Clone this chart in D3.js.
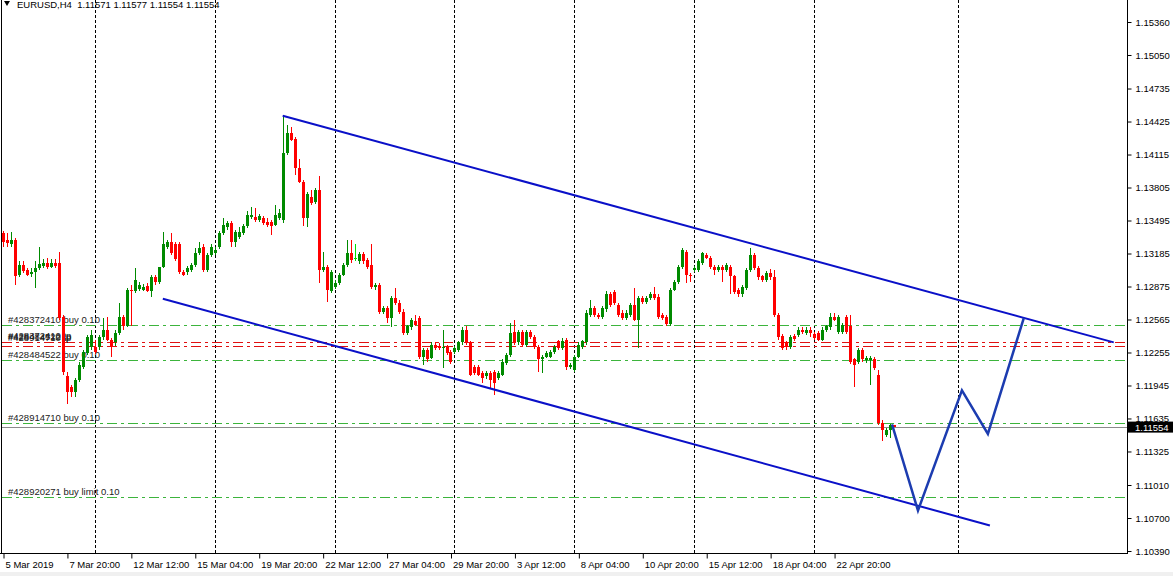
<!DOCTYPE html>
<html><head><meta charset="utf-8">
<script src="https://cdn.jsdelivr.net/npm/d3@7/dist/d3.min.js"></script>
<style>
html,body{margin:0;padding:0;background:#fff;}
svg{display:block;font-family:"Liberation Sans",Arial,sans-serif;}
</style></head>
<body>
<svg id="c" width="1173" height="576"></svg>
<script>
// ---- data ----
const symbol = "EURUSD,H4";
const lastQuote = [1.11571, 1.11577, 1.11554, 1.11554];
const open = [1.1338,1.1331,1.1327,1.1331,1.1298,1.1308,1.1303,1.1299,1.1301,1.1305,1.1307,1.1310,1.1306,1.1310,1.1310,1.1259,1.1203,1.1193,1.1188,1.1200,
1.1212,1.1225,1.1231,1.1231,1.1231,1.1240,1.1247,1.1237,1.1235,1.1244,1.1259,1.1250,1.1284,1.1283,1.1285,1.1284,1.1288,1.1283,1.1296,1.1292,
1.1306,1.1325,1.1329,1.1327,1.1327,1.1301,1.1301,1.1303,1.1308,1.1319,1.1325,1.1303,1.1317,1.1319,1.1325,1.1338,1.1343,1.1347,1.1329,1.1334,
1.1338,1.1344,1.1353,1.1353,1.1350,1.1352,1.1348,1.1348,1.1345,1.1352,1.1350,1.1413,1.1432,1.1426,1.1399,1.1386,1.1352,1.1372,1.1367,1.1378,
1.1303,1.1306,1.1283,1.1287,1.1291,1.1298,1.1308,1.1319,1.1314,1.1311,1.1318,1.1312,1.1308,1.1287,1.1289,1.1264,1.1267,1.1258,1.1277,1.1272,
1.1264,1.1244,1.1249,1.1255,1.1258,1.1221,1.1228,1.1220,1.1233,1.1232,1.1230,1.1231,1.1226,1.1226,1.1228,1.1235,1.1247,1.1235,1.1212,1.1212,
1.1206,1.1203,1.1206,1.1207,1.1202,1.1204,1.1216,1.1223,1.1245,1.1235,1.1245,1.1233,1.1245,1.1240,1.1231,1.1219,1.1221,1.1221,1.1226,1.1236,
1.1230,1.1237,1.1212,1.1209,1.1221,1.1231,1.1235,1.1261,1.1267,1.1261,1.1259,1.1266,1.1280,1.1282,1.1270,1.1263,1.1258,1.1261,1.1270,1.1256,
1.1277,1.1273,1.1277,1.1280,1.1278,1.1261,1.1259,1.1252,1.1284,1.1292,1.1306,1.1320,1.1298,1.1303,1.1303,1.1310,1.1317,1.1314,1.1306,1.1303,
1.1306,1.1303,1.1306,1.1297,1.1284,1.1280,1.1286,1.1303,1.1317,1.1305,1.1297,1.1294,1.1300,1.1296,1.1261,1.1241,1.1235,1.1231,1.1241,1.1242,
1.1247,1.1244,1.1247,1.1243,1.1244,1.1237,1.1247,1.1249,1.1259,1.1245,1.1245,1.1259,1.1250,1.1219,1.1217,1.1228,1.1218,1.1218,1.1219,1.1204,
1.1159,1.1148,1.1153,1.11571];
const high = [1.1340,1.1338,1.1339,1.1333,1.1311,1.1311,1.1305,1.1305,1.1311,1.1325,1.1313,1.1314,1.1313,1.1313,1.1320,1.1261,1.1207,1.1195,1.1202,1.1217,
1.1228,1.1242,1.1247,1.1237,1.1242,1.1258,1.1259,1.1239,1.1247,1.1272,1.1261,1.1286,1.1289,1.1305,1.1292,1.1290,1.1291,1.1298,1.1298,1.1306,
1.1339,1.1331,1.1338,1.1329,1.1329,1.1303,1.1307,1.1310,1.1324,1.1329,1.1327,1.1319,1.1327,1.1325,1.1340,1.1352,1.1349,1.1349,1.1341,1.1343,
1.1346,1.1358,1.1362,1.1361,1.1356,1.1354,1.1352,1.1350,1.1364,1.1360,1.1448,1.1439,1.1437,1.1428,1.1407,1.1388,1.1376,1.1378,1.1380,1.1391,
1.1320,1.1308,1.1303,1.1294,1.1300,1.1310,1.1331,1.1331,1.1327,1.1320,1.1320,1.1314,1.1327,1.1291,1.1291,1.1269,1.1269,1.1279,1.1286,1.1275,
1.1266,1.1251,1.1258,1.1261,1.1260,1.1230,1.1230,1.1235,1.1235,1.1234,1.1247,1.1233,1.1228,1.1232,1.1236,1.1249,1.1250,1.1236,1.1214,1.1214,
1.1208,1.1208,1.1208,1.1209,1.1208,1.1219,1.1225,1.1253,1.1256,1.1247,1.1247,1.1247,1.1247,1.1242,1.1233,1.1223,1.1227,1.1228,1.1233,1.1237,
1.1239,1.1239,1.1216,1.1223,1.1235,1.1237,1.1265,1.1275,1.1269,1.1263,1.1269,1.1283,1.1282,1.1284,1.1272,1.1265,1.1265,1.1272,1.1286,1.1279,
1.1279,1.1279,1.1282,1.1287,1.1280,1.1263,1.1261,1.1286,1.1294,1.1308,1.1324,1.1322,1.1300,1.1307,1.1313,1.1320,1.1319,1.1316,1.1308,1.1308,
1.1308,1.1310,1.1308,1.1298,1.1286,1.1289,1.1305,1.1324,1.1319,1.1307,1.1298,1.1302,1.1304,1.1303,1.1263,1.1243,1.1236,1.1242,1.1243,1.1249,
1.1249,1.1249,1.1249,1.1245,1.1246,1.1249,1.1251,1.1263,1.1263,1.1261,1.1253,1.1261,1.1261,1.1220,1.1230,1.1230,1.1222,1.1222,1.1221,1.1209,
1.1162,1.1155,1.1158,1.11577];
const low = [1.1325,1.1325,1.1325,1.1289,1.1296,1.1300,1.1297,1.1296,1.1286,1.1303,1.1305,1.1304,1.1305,1.1305,1.1256,1.1204,1.1177,1.1184,1.1184,1.1198,
1.1210,1.1223,1.1228,1.1224,1.1228,1.1237,1.1236,1.1221,1.1232,1.1242,1.1247,1.1249,1.1250,1.1281,1.1283,1.1283,1.1282,1.1278,1.1289,1.1290,
1.1305,1.1323,1.1317,1.1311,1.1299,1.1297,1.1298,1.1301,1.1306,1.1317,1.1301,1.1301,1.1315,1.1317,1.1323,1.1336,1.1341,1.1325,1.1325,1.1332,
1.1336,1.1342,1.1351,1.1348,1.1348,1.1345,1.1343,1.1336,1.1344,1.1350,1.1347,1.1411,1.1424,1.1392,1.1385,1.1344,1.1343,1.1364,1.1365,1.1291,
1.1301,1.1273,1.1281,1.1285,1.1289,1.1297,1.1306,1.1310,1.1311,1.1309,1.1309,1.1304,1.1285,1.1284,1.1262,1.1262,1.1253,1.1249,1.1270,1.1262,
1.1242,1.1242,1.1247,1.1250,1.1219,1.1214,1.1217,1.1219,1.1228,1.1228,1.1211,1.1223,1.1215,1.1224,1.1226,1.1233,1.1233,1.1203,1.1204,1.1203,
1.1197,1.1201,1.1192,1.1186,1.1200,1.1203,1.1214,1.1221,1.1233,1.1233,1.1231,1.1231,1.1238,1.1229,1.1207,1.1206,1.1220,1.1220,1.1224,1.1228,
1.1228,1.1209,1.1210,1.1207,1.1220,1.1229,1.1233,1.1259,1.1259,1.1257,1.1257,1.1264,1.1268,1.1270,1.1259,1.1256,1.1256,1.1259,1.1255,1.1230,
1.1271,1.1271,1.1275,1.1275,1.1257,1.1256,1.1250,1.1250,1.1283,1.1290,1.1304,1.1291,1.1292,1.1301,1.1301,1.1308,1.1313,1.1304,1.1298,1.1301,
1.1292,1.1301,1.1280,1.1280,1.1278,1.1278,1.1284,1.1301,1.1303,1.1294,1.1292,1.1292,1.1294,1.1259,1.1237,1.1228,1.1228,1.1229,1.1236,1.1240,
1.1243,1.1242,1.1240,1.1237,1.1236,1.1236,1.1245,1.1247,1.1255,1.1243,1.1243,1.1243,1.1215,1.1193,1.1215,1.1217,1.1216,1.1195,1.1209,1.1157,
1.1142,1.1146,1.1145,1.11554];
const close = [1.1329,1.1328,1.1331,1.1297,1.1308,1.1302,1.1298,1.1301,1.1305,1.1309,1.1310,1.1306,1.1310,1.1307,1.1258,1.1207,1.1188,1.1188,1.1200,1.1214,
1.1226,1.1240,1.1242,1.1226,1.1240,1.1247,1.1237,1.1231,1.1244,1.1259,1.1250,1.1284,1.1283,1.1294,1.1289,1.1287,1.1283,1.1296,1.1292,1.1306,
1.1327,1.1329,1.1319,1.1313,1.1301,1.1298,1.1305,1.1308,1.1319,1.1324,1.1303,1.1317,1.1325,1.1322,1.1338,1.1345,1.1347,1.1329,1.1339,1.1339,
1.1344,1.1355,1.1355,1.1350,1.1354,1.1347,1.1345,1.1344,1.1355,1.1357,1.1413,1.1432,1.1425,1.1399,1.1386,1.1352,1.1374,1.1366,1.1378,1.1303,
1.1306,1.1284,1.1301,1.1291,1.1298,1.1308,1.1319,1.1312,1.1314,1.1318,1.1311,1.1306,1.1287,1.1289,1.1264,1.1267,1.1258,1.1277,1.1272,1.1264,
1.1244,1.1250,1.1256,1.1251,1.1221,1.1228,1.1219,1.1233,1.1230,1.1230,1.1231,1.1225,1.1217,1.1230,1.1235,1.1247,1.1235,1.1204,1.1206,1.1204,
1.1202,1.1206,1.1200,1.1197,1.1206,1.1217,1.1223,1.1244,1.1235,1.1245,1.1233,1.1245,1.1240,1.1231,1.1219,1.1221,1.1225,1.1226,1.1231,1.1230,
1.1236,1.1212,1.1214,1.1221,1.1233,1.1236,1.1263,1.1267,1.1261,1.1259,1.1267,1.1280,1.1270,1.1272,1.1261,1.1258,1.1263,1.1270,1.1256,1.1277,
1.1273,1.1277,1.1280,1.1277,1.1259,1.1258,1.1252,1.1284,1.1292,1.1306,1.1322,1.1298,1.1297,1.1305,1.1311,1.1319,1.1314,1.1306,1.1303,1.1306,
1.1303,1.1308,1.1297,1.1282,1.1280,1.1287,1.1303,1.1317,1.1305,1.1296,1.1294,1.1300,1.1296,1.1261,1.1240,1.1230,1.1231,1.1240,1.1238,1.1247,
1.1245,1.1247,1.1244,1.1239,1.1237,1.1247,1.1250,1.1259,1.1256,1.1259,1.1251,1.1245,1.1217,1.1214,1.1228,1.1219,1.1220,1.1220,1.1211,1.1159,
1.1153,1.1153,1.1157,1.11554];
const priceTicks = [1.15360,1.15050,1.14735,1.14425,1.14115,1.13805,1.13495,1.13185,1.12875,1.12565,1.12255,1.11945,1.11635,1.11325,1.11010,1.10700,1.10390];
const timeTickIdx = [0,16,32,48,64,80,96,112,128,144,160,176,192,208];
const timeTickLabels = ["5 Mar 2019","7 Mar 20:00","12 Mar 12:00","15 Mar 04:00","19 Mar 20:00","22 Mar 12:00","27 Mar 04:00","29 Mar 20:00","3 Apr 12:00","8 Apr 04:00","10 Apr 20:00","15 Apr 12:00","18 Apr 04:00","22 Apr 20:00"];
const gridIdx = [23,53,83,113,143,173,203,239];
const orderLabels = ["#428372410 buy 0.10","#428484522 buy 0.10","#428914710 buy 0.10","#428920271 buy limit 0.10"];
const orderPrices = [1.1251,1.1218,1.1159,1.1090];
const tpLabels = ["#428372410 tp","#428484522 tp","#428914710 tp"];
const tpPrices = [1.1235,1.1232];
const bidPrice = 1.11554;
const channelUpper = [[70,1.1448],[278,1.1235]];
const channelLower = [[40,1.1276],[247,1.1063]];
const projection = [[222.5,1.1158],[229,1.1077],[240,1.1190],[246.5,1.1149],[255.5,1.1258]];

// ---- layout ----
const W = 1173, H = 576;
const plotRight = 1127, plotBottom = 553, plotLeft = 2;
const svg = d3.select("#c");
const x = d3.scaleLinear().domain([0, open.length - 1]).range([3, 894]);
const y = d3.scaleLinear().domain([1.10390, 1.15360]).range([551, 22]);

svg.append("rect").attr("width", W).attr("height", H).attr("fill", "#fff");
svg.append("rect").attr("x", 0).attr("y", 572).attr("width", W).attr("height", 4).attr("fill", "#f0f0f0");

// vertical grid
svg.append("g").selectAll("line").data(gridIdx).join("line")
  .attr("x1", d => Math.round(x(d)) + 0.5).attr("x2", d => Math.round(x(d)) + 0.5)
  .attr("y1", 0).attr("y2", plotBottom)
  .attr("stroke", "#000").attr("stroke-width", 1).attr("stroke-dasharray", "3,2");

// order lines
const dashDot = "10,4,3,4";
svg.append("g").selectAll("line").data(orderPrices).join("line")
  .attr("x1", plotLeft).attr("x2", plotRight)
  .attr("y1", d => Math.round(y(d)) + 0.5).attr("y2", d => Math.round(y(d)) + 0.5)
  .attr("stroke", "#3cb43c").attr("stroke-dasharray", dashDot);
svg.append("g").selectAll("line").data(tpPrices).join("line")
  .attr("x1", plotLeft).attr("x2", plotRight)
  .attr("y1", d => Math.round(y(d)) + 0.5).attr("y2", d => Math.round(y(d)) + 0.5)
  .attr("stroke", "#e01010").attr("stroke-dasharray", dashDot);
// bid line
svg.append("line").attr("x1", plotLeft).attr("x2", plotRight)
  .attr("y1", Math.round(y(bidPrice)) + 0.5).attr("y2", Math.round(y(bidPrice)) + 0.5)
  .attr("stroke", "#8a8a8a").attr("stroke-width", 1);

// labels for orders
const lblFont = "9.5px";
svg.append("g").selectAll("text").data(orderLabels).join("text")
  .attr("x", 8).attr("y", (d, i) => y(orderPrices[i]) - 2)
  .attr("font-size", lblFont).attr("fill", "#222").text(d => d);
svg.append("g").selectAll("text").data(tpLabels).join("text")
  .attr("x", 8).attr("y", (d, i) => y(tpPrices[0]) - 3 + i)
  .attr("font-size", lblFont).attr("fill", "#222").text(d => d);

// candles
const idx = d3.range(open.length);
const cg = svg.append("g").attr("shape-rendering", "crispEdges");
const colorOf = i => close[i] > open[i] ? "#008a00" : (close[i] < open[i] ? "#ff0000" : "#00e000");
cg.selectAll("rect.w").data(idx).join("rect").attr("class", "w")
  .attr("x", i => Math.round(x(i)))
  .attr("width", 1)
  .attr("y", i => y(high[i]))
  .attr("height", i => Math.max(1, y(low[i]) - y(high[i])))
  .attr("fill", colorOf);
cg.selectAll("rect.b").data(idx).join("rect").attr("class", "b")
  .attr("x", i => Math.round(x(i)) - 1)
  .attr("width", 3)
  .attr("y", i => y(Math.max(open[i], close[i])))
  .attr("height", i => Math.max(1, Math.abs(y(open[i]) - y(close[i]))))
  .attr("fill", colorOf);

// trend lines
const ln = d3.line().x(d => x(d[0])).y(d => y(d[1]));
svg.append("path").attr("d", ln(channelUpper)).attr("fill", "none").attr("stroke", "#0a10c8").attr("stroke-width", 2);
svg.append("path").attr("d", ln(channelLower)).attr("fill", "none").attr("stroke", "#0a10c8").attr("stroke-width", 2);
svg.append("path").attr("d", ln(projection)).attr("fill", "none").attr("stroke", "#1c3cb0").attr("stroke-width", 2.5).attr("stroke-linejoin", "miter");

// frame
svg.append("line").attr("x1", 1.5).attr("x2", 1.5).attr("y1", 0).attr("y2", plotBottom).attr("stroke", "#000");

// right price axis
const yAxis = d3.axisRight(y).tickValues(priceTicks).tickFormat(d3.format(".5f")).tickSize(4).tickPadding(4);
const ya = svg.append("g").attr("transform", `translate(${plotRight + 0.5},0)`).call(yAxis);
ya.select(".domain").remove();
ya.selectAll("text").attr("font-size", "9.5px").attr("fill", "#000").attr("font-family", "Liberation Sans, Arial, sans-serif");
ya.selectAll("line").attr("stroke", "#000");
svg.append("line").attr("x1", plotRight + 0.5).attr("x2", plotRight + 0.5).attr("y1", 0).attr("y2", plotBottom + 1).attr("stroke", "#000");

// bottom time axis
const xAxis = d3.axisBottom(x).tickValues(timeTickIdx).tickFormat((d, i) => timeTickLabels[i]).tickSize(5).tickPadding(3);
const xa = svg.append("g").attr("transform", `translate(0,${plotBottom + 0.5})`).call(xAxis);
xa.select(".domain").remove();
xa.selectAll(".tick line").attr("stroke", "#000").attr("transform", "translate(0.5,0)");
xa.selectAll("text").attr("font-size", "9.5px").attr("fill", "#000").attr("text-anchor", "start").attr("dx", 2)
  .attr("font-family", "Liberation Sans, Arial, sans-serif");
svg.append("line").attr("x1", 0).attr("x2", plotRight + 1).attr("y1", plotBottom + 0.5).attr("y2", plotBottom + 0.5).attr("stroke", "#000");

// current price box
const by = y(bidPrice);
svg.append("rect").attr("x", plotRight + 1).attr("y", by - 5.5).attr("width", W - plotRight - 1).attr("height", 11).attr("fill", "#000");
svg.append("text").attr("x", plotRight + 8).attr("y", by + 3.5).attr("font-size", "9.5px").attr("fill", "#fff").text(d3.format(".5f")(bidPrice));

// header
svg.append("path").attr("d", "M4,1 L10,1 L7,6 Z").attr("fill", "#000");
svg.append("text").attr("x", 17).attr("y", 7.5).attr("font-size", "9.5px").attr("fill", "#000")
  .attr("xml:space", "preserve")
  .text(symbol + "  " + lastQuote.map(d3.format(".5f")).join(" "));
</script>
</body></html>
